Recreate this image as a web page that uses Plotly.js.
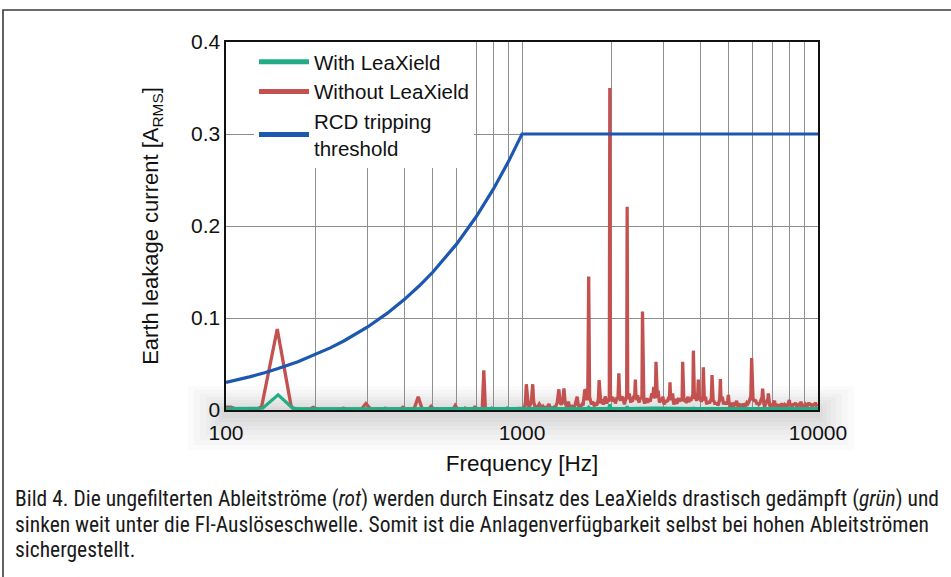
<!DOCTYPE html>
<html>
<head>
<meta charset="utf-8">
<script src="https://cdn.plot.ly/plotly-3.0.1.min.js"></script>
<style>html,body{margin:0;padding:0;background:#fff;}#chart{width:951px;height:577px;}</style>
</head>
<body>
<div id="chart"></div>
<script>
// ---- Data ----
const seriesNames = ["With LeaXield", "Without LeaXield", "RCD tripping<br>threshold"];

// RCD tripping threshold [Hz, A]
const thresholdFreq = [100, 110, 120, 135, 150, 175, 200, 225, 250, 300, 350, 400, 450, 500, 600, 700, 800, 900, 1000, 10000];
const thresholdVal  = [0.030, 0.033, 0.036, 0.0405, 0.045, 0.0525, 0.060, 0.0675, 0.075, 0.090, 0.105, 0.120, 0.135, 0.150, 0.180, 0.210, 0.240, 0.270, 0.300, 0.300];

// With LeaXield [Hz, A]
const withFreq = [100, 125, 133, 150, 168, 175, 400, 1000, 1660, 1680, 1700, 1960, 1980, 2000, 2250, 2266, 2285, 2800, 3780, 3793, 3810, 6000, 10000];
const withVal  = [0.0015, 0.0015, 0.002, 0.0165, 0.002, 0.0012, 0.0012, 0.0012, 0.0015, 0.003, 0.0015, 0.0015, 0.006, 0.0015, 0.0015, 0.004, 0.0015, 0.002, 0.0015, 0.003, 0.0015, 0.0015, 0.0015];

// Without LeaXield [Hz, A] as [frequency, current] pairs
const withoutPoints = [
 [100,.003],[104,.003],[108,.001],[128,.001],[132,.004],[149,.088],[166,.004],[170,.001],[192,.001],[197,.003],
 [203,.001],[243,.001],[249,.002],[256,.001],[287,.001],[297,.007],[308,.001],[338,.001],[345,.002],[352,.001],
 [388,.001],[396,.003],[404,.001],[432,.001],[446,.0145],[460,.001],[484,.001],[493,.004],[502,.001],[585,.001],
 [595,.005],[606,.001],[636,.001],[642,.002],[648,.001],[686,.001],[694,.004],[702,.001],[734,.001],[743,.043],
 [752,.001],[784,.001],[790,.002],[796,.001],[884,.001],[891,.002],[898,.001],[1010,.002],
 [1022,.004],[1028,.010],[1034,.028],[1042,.010],[1050,.005],[1060,.004],[1068,.006],[1076,.010],[1087,.028],[1095,.009],
 [1105,.004],[1120,.003],[1132,.004],[1144,.0065],[1156,.003],[1167,.002],[1178,.004],[1190,.002],[1205,.003],[1220,.003],
 [1233,.0065],[1245,.003],[1262,.002],[1280,.003],[1300,.004],[1315,.008],[1332,.0225],[1345,.008],[1358,.006],[1372,.009],
 [1386,.0235],[1398,.008],[1412,.004],[1425,.006],[1434,.009],[1448,.004],[1462,.003],[1478,.004],[1494,.003],[1510,.005],
 [1522,.009],[1536,.0145],[1548,.006],[1562,.003],[1578,.004],[1594,.006],[1608,.005],[1618,.014],[1630,.022],[1642,.021],
 [1656,.012],[1668,.012],[1680,.145],[1692,.014],[1705,.008],[1718,.006],[1732,.009],[1745,.006],[1758,.004],[1772,.008],
 [1786,.005],[1800,.008],[1812,.012],[1822,.0326],[1834,.010],[1846,.007],[1858,.012],[1870,.009],[1884,.006],[1898,.010],
 [1910,.0145],[1922,.012],[1934,.007],[1948,.012],[1960,.009],[1972,.012],[1980,.350],[1990,.012],[2002,.015],[2015,.010],
 [2028,.014],[2040,.009],[2054,.012],[2068,.007],[2082,.011],[2095,.014],[2110,.012],[2124,.040],[2138,.013],[2150,.010],
 [2163,.015],[2176,.012],[2190,.0145],[2204,.009],[2218,.006],[2232,.010],[2246,.013],[2258,.012],[2266,.221],[2276,.014],
 [2290,.012],[2304,.018],[2318,.011],[2332,.008],[2346,.012],[2360,.009],[2374,.013],[2390,.015],[2402,.014],[2415,.033],
 [2428,.013],[2442,.011],[2456,.016],[2470,.010],[2485,.008],[2500,.011],[2515,.014],[2530,.012],[2542,.015],[2553,.107],
 [2565,.013],[2580,.010],[2596,.007],[2612,.011],[2628,.009],[2644,.013],[2660,.008],[2676,.010],[2692,.012],[2710,.009],
 [2728,.014],[2746,.018],[2766,.013],[2787,.025],[2805,.014],[2822,.013],[2836,.0525],[2850,.016],[2866,.013],[2882,.021],
 [2898,.012],[2914,.008],[2930,.010],[2948,.013],[2966,.009],[2982,.011],[2993,.0145],[3010,.008],[3028,.006],[3046,.010],
 [3064,.008],[3082,.011],[3100,.009],[3118,.012],[3134,.014],[3150,.013],[3162,.030],[3178,.013],[3196,.011],[3212,.015],
 [3228,.018],[3246,.009],[3264,.006],[3282,.010],[3300,.012],[3320,.008],[3340,.007],[3360,.011],[3380,.013],[3400,.009],
 [3420,.012],[3440,.010],[3458,.011],[3476,.013],[3490,.0525],[3505,.012],[3522,.009],[3540,.012],[3560,.011],[3580,.008],
 [3600,.009],[3620,.012],[3640,.0145],[3660,.010],[3680,.009],[3700,.012],[3720,.010],[3740,.013],[3760,.014],[3778,.016],
 [3793,.0645],[3808,.013],[3824,.012],[3840,.015],[3856,.018],[3872,.012],[3888,.010],[3904,.012],[3920,.013],[3941,.033],
 [3958,.012],[3975,.011],[3992,.0145],[4010,.011],[4028,.009],[4046,.010],[4064,.012],[4082,.014],[4098,.0464],[4115,.012],
 [4132,.010],[4150,.012],[4170,.0145],[4190,.009],[4210,.006],[4232,.009],[4254,.008],[4276,.010],[4298,.007],[4320,.009],
 [4342,.011],[4364,.013],[4385,.038],[4405,.011],[4426,.009],[4448,.010],[4470,.007],[4492,.006],[4514,.008],[4536,.006],
 [4560,.008],[4584,.005],[4608,.006],[4632,.009],[4656,.012],[4680,.0337],[4702,.010],[4726,.011],[4750,.0145],[4774,.009],
 [4798,.006],[4824,.008],[4850,.006],[4876,.009],[4902,.007],[4928,.006],[4954,.010],[4980,.0163],[5006,.008],[5034,.006],
 [5062,.004],[5092,.006],[5122,.008],[5152,.005],[5184,.004],[5216,.006],[5250,.005],[5282,.008],[5310,.010],[5340,.005],
 [5372,.004],[5406,.007],[5440,.005],[5476,.004],[5512,.006],[5550,.004],[5590,.007],[5630,.005],[5670,.006],[5712,.005],
 [5756,.008],[5800,.007],[5846,.009],[5894,.012],[5930,.015],[5968,.0565],[6000,.013],[6035,.010],[6070,.012],[6108,.009],
 [6146,.011],[6186,.008],[6226,.006],[6268,.008],[6310,.006],[6354,.007],[6398,.009],[6444,.012],[6472,.014],[6500,.0232],
 [6530,.010],[6566,.006],[6604,.004],[6644,.006],[6686,.008],[6730,.009],[6770,.012],[6795,.018],[6825,.008],[6866,.005],
 [6910,.004],[6956,.005],[7004,.004],[7052,.006],[7100,.007],[7130,.0101],[7170,.005],[7220,.004],[7270,.005],[7322,.004],
 [7376,.006],[7430,.004],[7486,.005],[7544,.007],[7602,.005],[7662,.004],[7724,.006],[7786,.005],[7850,.004],[7916,.006],
 [7960,.008],[8000,.011],[8040,.006],[8110,.005],[8180,.004],[8250,.007],[8320,.005],[8394,.008],[8470,.004],[8546,.005],
 [8624,.006],[8700,.005],[8760,.009],[8830,.004],[8910,.005],[8990,.004],[9070,.006],[9150,.004],[9230,.005],[9310,.008],
 [9390,.005],[9450,.007],[9530,.004],[9610,.005],[9690,.006],[9760,.005],[9800,.0083],[9860,.005],[9930,.006],[10000,.006]
];
const withoutFreq = withoutPoints.map(p => p[0]);
const withoutVal  = withoutPoints.map(p => p[1]);

const xTickVals = [100, 1000, 10000];
const xTickText = ["100", "1000", "10000"];
const yTickVals = [0, 0.1, 0.2, 0.3, 0.4];
const yTickText = ["0", "0.1", "0.2", "0.3", "0.4"];

const captionLines = [
  "Bild 4. Die ungefilterten Ableitströme (<i>rot</i>) werden durch Einsatz des LeaXields drastisch gedämpft (<i>grün</i>) und",
  "sinken weit unter die FI-Auslöseschwelle. Somit ist die Anlagenverfügbarkeit selbst bei hohen Ableitströmen",
  "sichergestellt."
];

// ---- Styles ----
const GREEN = "#22ad86", RED = "#c2514f", BLUE = "#1c57b0";
const W = 951, H = 577, L = 226, R = 818, T = 42, B = 410;
const px2x = p => (p - L) / (R - L);
const py2y = p => (B - p) / (B - T);
const FONT = "Liberation Sans, Arial, Helvetica, sans-serif";
const CAPFONT = "Liberation Sans Narrow, Arial Narrow, Roboto Condensed, DejaVu Sans Condensed, sans-serif";
const GRID = "#8e8e8e";

const traces = [
  {x: withoutFreq, y: withoutVal, type: "scatter", mode: "lines", line: {color: RED, width: 3.3}, showlegend: false, hoverinfo: "skip"},
  {x: thresholdFreq, y: thresholdVal, type: "scatter", mode: "lines", line: {color: BLUE, width: 3.2}, showlegend: false, hoverinfo: "skip"},
  {x: withFreq, y: withVal, type: "scatter", mode: "lines", line: {color: GREEN, width: 3.2}, showlegend: false, hoverinfo: "skip"},
  // legend entries
  {x: [null], y: [null], type: "scatter", mode: "lines", name: seriesNames[0], line: {color: GREEN, width: 5}},
  {x: [null], y: [null], type: "scatter", mode: "lines", name: seriesNames[1], line: {color: RED, width: 5}},
  {x: [null], y: [null], type: "scatter", mode: "lines", name: seriesNames[2], line: {color: BLUE, width: 5}}
];

const shapes = [];
// soft shadow around the x axis
const shadow = [
  [386, 450, 188, 854, 0.016], [390, 445, 194, 848, 0.018], [394, 440, 200, 842, 0.018], [397, 435, 206, 836, 0.02],
  [400, 430, 211, 831, 0.02], [403, 426, 215, 827, 0.02], [406, 422, 219, 823, 0.02], [408, 418, 222, 820, 0.02]
];
shadow.forEach(s => shapes.push({type: "rect", xref: "paper", yref: "paper", layer: "below",
  x0: px2x(s[2]), x1: px2x(s[3]), y0: py2y(s[1]), y1: py2y(s[0]),
  line: {width: 0}, fillcolor: "rgba(0,0,0," + s[4] + ")"}));
// frame
shapes.push({type: "path", xref: "paper", yref: "paper", layer: "above",
  path: "M " + px2x(3) + "," + py2y(577) + " L " + px2x(3) + "," + py2y(10) + " L " + px2x(951) + "," + py2y(10),
  line: {color: "#3a3a3a", width: 1.6}});

const annotations = captionLines.map((t, i) => ({
  text: t, xref: "paper", yref: "paper", x: px2x(13), y: py2y(499 + 25 * i),
  xanchor: "left", yanchor: "middle", showarrow: false, align: "left",
  font: {family: CAPFONT, size: 21.5, color: "#1a1a1a"}
}));

const layout = {
  width: W, height: H,
  margin: {l: L, r: W - R, t: T, b: H - B, pad: 0},
  paper_bgcolor: "#ffffff", plot_bgcolor: "rgba(0,0,0,0)",
  font: {family: FONT, color: "#111"},
  showlegend: true,
  legend: {x: px2x(254), y: 1, xanchor: "left", yanchor: "top", bgcolor: "#ffffff", borderwidth: 0,
    font: {family: FONT, size: 20.5, color: "#111"}, itemwidth: 50, tracegroupgap: 0, traceorder: "normal"},
  xaxis: {type: "log", range: [2, 4], tickvals: xTickVals, ticktext: xTickText, ticks: "",
    tickfont: {family: FONT, size: 21, color: "#111"}, ticklabelstandoff: 3,
    showgrid: true, gridcolor: GRID, gridwidth: 1,
    minor: {dtick: "D1", showgrid: true, gridcolor: GRID, gridwidth: 1, ticks: ""},
    showline: true, linecolor: "#111", linewidth: 1.6, mirror: true, zeroline: false,
    title: {text: "Frequency [Hz]", font: {family: FONT, size: 22.5, color: "#111"}, standoff: 12}},
  yaxis: {range: [0, 0.4], tickvals: yTickVals, ticktext: yTickText, ticks: "",
    tickfont: {family: FONT, size: 21, color: "#111"},
    showgrid: true, gridcolor: GRID, gridwidth: 1,
    showline: true, linecolor: "#111", linewidth: 1.6, mirror: true, zeroline: false,
    title: {text: "Earth leakage current [A<sub>RMS</sub>]", font: {family: FONT, size: 22, color: "#111"}, standoff: 26}},
  shapes: shapes,
  annotations: annotations
};

Plotly.newPlot("chart", traces, layout, {staticPlot: true, displayModeBar: false});
</script>
</body>
</html>
